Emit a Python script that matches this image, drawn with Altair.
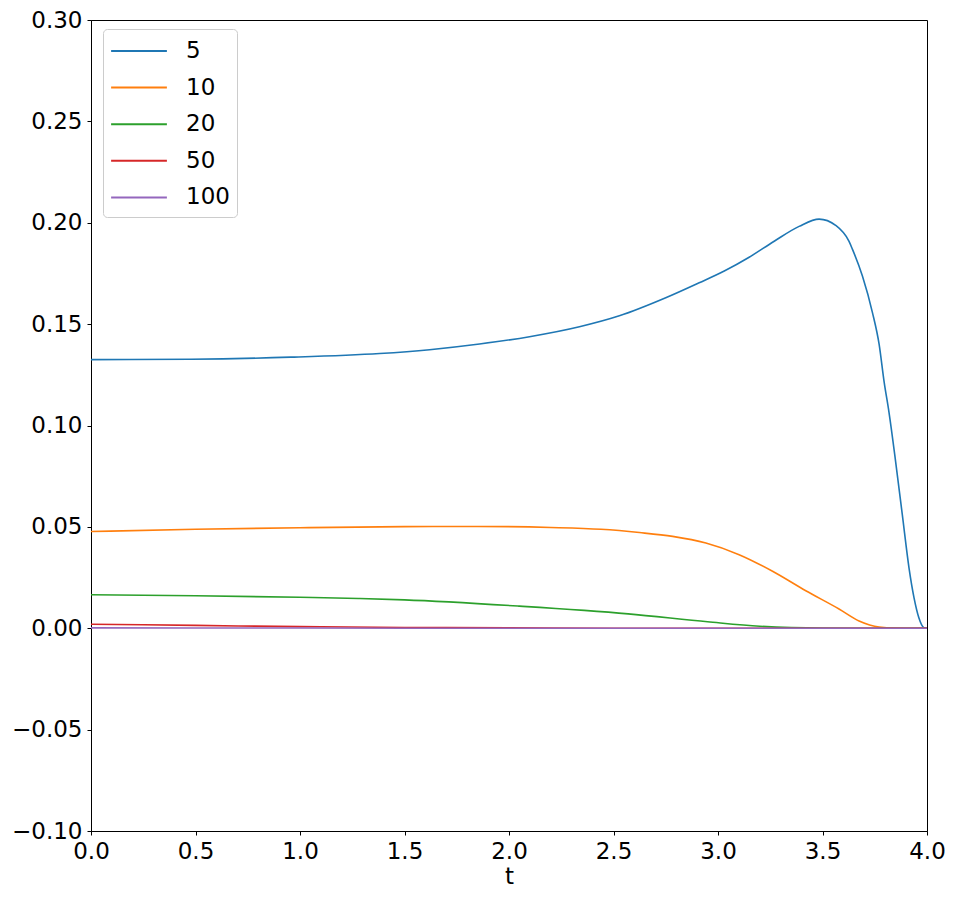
import altair as alt
import pandas as pd

series_names = ["5", "10", "20", "50", "100"]
colors = ["#1f77b4", "#ff7f0e", "#2ca02c", "#d62728", "#9467bd"]

t_5 = [0.0, 0.478, 0.956, 1.381, 1.62, 1.859, 2.098, 2.337, 2.528, 2.75, 2.91, 3.03, 3.149, 3.269, 3.388, 3.484, 3.563, 3.627, 3.643, 3.691, 3.739, 3.771, 3.795, 3.818, 3.85, 3.882, 3.914, 3.938, 3.961, 3.985, 4.0]
v_5 = [0.1325, 0.1327, 0.1337, 0.1355, 0.1374, 0.1402, 0.1438, 0.1487, 0.1541, 0.1630, 0.1704, 0.1762, 0.1830, 0.1909, 0.1982, 0.2018, 0.1987, 0.1908, 0.1870, 0.1737, 0.1557, 0.1400, 0.1214, 0.1066, 0.0821, 0.0559, 0.0297, 0.0150, 0.0052, 0.0003, 0.0]

t_10 = [0.0, 0.5, 1.0, 1.5, 1.85, 2.2, 2.44, 2.624, 2.783, 2.942, 3.101, 3.261, 3.42, 3.579, 3.675, 3.771, 3.85, 3.95, 4.0]
v_10 = [0.0477, 0.0488, 0.0496, 0.0501, 0.0502, 0.0497, 0.0488, 0.0472, 0.0453, 0.0420, 0.0363, 0.0281, 0.0185, 0.0095, 0.0036, 0.0006, 0.0001, 0.0, 0.0]

t_20 = [0.0, 0.5, 1.0, 1.28, 1.5, 2.05, 2.57, 2.95, 3.2, 3.5, 4.0]
v_20 = [0.0165, 0.0160, 0.0153, 0.0147, 0.0140, 0.0109, 0.0071, 0.0032, 0.0010, 0.0001, 0.0]

t_50 = [0.0, 0.5, 1.0, 1.5, 2.0, 2.5, 4.0]
v_50 = [0.0020, 0.0014, 0.0008, 0.0004, 0.0002, 0.0, 0.0]

t_100 = [0.0, 1.0, 2.0, 4.0]
v_100 = [0.0002, 0.0001, 0.0, 0.0]

rows = []
for name, ts, vs in zip(series_names, [t_5, t_10, t_20, t_50, t_100], [v_5, v_10, v_20, v_50, v_100]):
    for t, v in zip(ts, vs):
        rows.append({"t": t, "value": v, "series": name})
df = pd.DataFrame(rows)

FONT = "DejaVu Sans"
FS = 23

chart = alt.Chart(df).mark_line(strokeWidth=1.6, interpolate="monotone", clip=True).encode(
    x=alt.X("t:Q", title="t",
            scale=alt.Scale(domain=[0, 4], nice=False, zero=False),
            axis=alt.Axis(values=[0, 0.5, 1, 1.5, 2, 2.5, 3, 3.5, 4], format=".1f")),
    y=alt.Y("value:Q", title=None,
            scale=alt.Scale(domain=[-0.1, 0.3], nice=False, zero=False),
            axis=alt.Axis(values=[-0.1, -0.05, 0, 0.05, 0.1, 0.15, 0.2, 0.25, 0.3], format=".2f")),
    color=alt.Color("series:N", sort=series_names,
                    scale=alt.Scale(domain=series_names, range=colors),
                    legend=alt.Legend(title=None, orient="none", legendX=12, legendY=9,
                                      symbolType="M-2,0H2", symbolSize=778, symbolStrokeWidth=2,
                                      symbolOffset=14,
                                      labelFontSize=FS, labelFont=FONT, labelOffset=32,
                                      padding=7, rowPadding=9.6,
                                      fillColor="white", strokeColor="#cccccc", cornerRadius=4)),
    order=alt.Order("t:Q"),
).properties(
    width=836, height=811,
    autosize=alt.AutoSizeParams(type="none"),
    padding={"left": 83, "top": 12, "right": 19, "bottom": 58},
).configure_axis(
    labelFont=FONT, labelFontSize=FS, labelColor="black",
    titleFont=FONT, titleFontSize=FS, titleColor="black", titleFontWeight="normal",
    domainColor="black", tickColor="black", tickSize=4, labelPadding=5, titlePadding=2,
    grid=False, labelFlush=False, labelOverlap=False,
).configure_view(stroke="black", strokeWidth=1)

chart.save("out.html", embed_options={"renderer": "svg", "actions": False})
